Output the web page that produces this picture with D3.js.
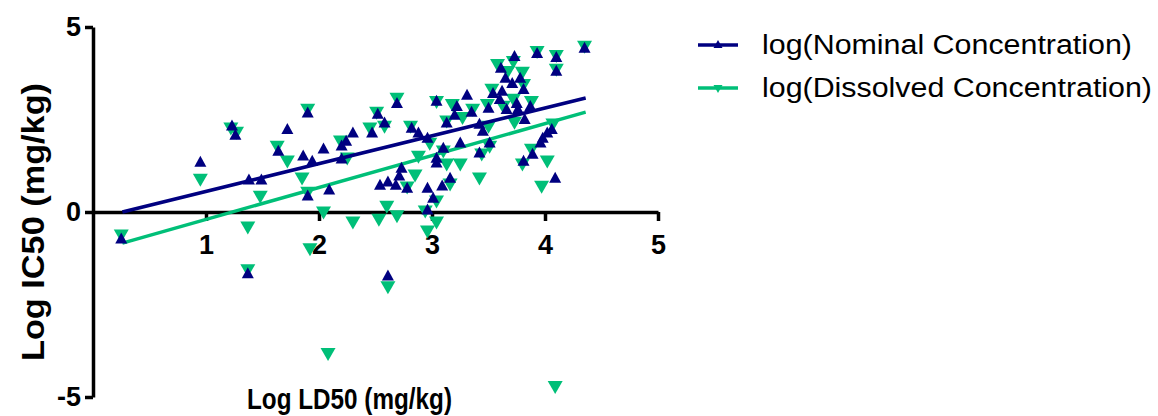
<!DOCTYPE html>
<html>
<head>
<meta charset="utf-8">
<script src="https://cdn.jsdelivr.net/npm/d3@7"></script>
<style>
  html, body { margin: 0; padding: 0; background: #ffffff; }
  svg { display: block; }
  text { font-family: "Liberation Sans", Arial, sans-serif; }
</style>
</head>
<body>
<svg id="chart" width="1158" height="416"></svg>
<script>
// ---------- data ----------
const xTicks = [1, 2, 3, 4, 5];
const yTicks = [-5, 0, 5];
const seriesNames = ["log(Nominal Concentration)", "log(Dissolved Concentration)"];
const xTitle = "Log LD50 (mg/kg)";
const yTitle = "Log IC50 (mg/kg)";

const nominalX = [0.25,0.95,1.23,1.26,1.38,1.49,1.37,1.64,1.72,1.90,1.86,1.94,2.04,1.90,2.09,2.20,2.24,2.20,2.30,2.47,2.52,2.58,2.69,2.54,2.61,2.68,2.71,2.73,2.78,2.61,2.82,2.88,2.96,3.04,3.10,3.04,3.04,2.96,3.01,3.09,3.16,2.96,3.13,3.20,3.22,3.31,3.35,3.25,3.42,3.45,3.50,3.42,3.51,3.54,3.62,3.60,3.61,3.65,3.71,3.78,3.73,3.81,3.66,3.75,3.76,3.87,3.82,3.93,4.10,4.10,4.35,3.98,4.02,4.06,3.96,3.81,3.89,4.09];
const nominalY = [-0.70,1.37,2.35,2.10,0.89,0.89,-1.64,1.67,2.26,2.70,1.54,1.40,1.73,0.46,0.62,1.81,1.94,1.46,2.16,2.16,2.67,2.43,2.96,0.75,0.84,0.75,1.00,1.21,0.67,-1.70,2.29,2.16,2.02,3.02,1.75,1.48,1.35,0.67,0.40,0.73,0.94,0.08,2.43,2.64,2.88,3.18,2.72,1.89,1.62,2.21,2.83,2.40,1.89,3.23,3.29,3.07,3.91,3.64,3.50,3.64,4.23,3.34,2.80,2.96,2.80,2.88,2.53,4.31,4.20,3.83,4.45,2.02,2.16,2.26,1.89,1.40,1.59,0.94];

const dissolvedX = [0.25,0.95,1.22,1.27,1.48,1.37,1.37,1.63,1.72,1.90,1.85,1.90,2.04,1.92,2.19,2.25,2.30,2.45,2.51,2.58,2.69,2.53,2.60,2.69,2.61,2.08,4.09,2.81,2.98,2.88,2.85,2.78,3.13,3.25,3.10,3.04,2.94,3.04,2.96,3.42,3.18,3.27,3.04,3.13,3.16,3.44,3.50,3.49,3.36,3.53,3.58,3.67,3.80,3.72,3.81,3.72,3.88,3.73,3.63,3.93,4.10,4.10,4.35,4.07,3.51,3.80,3.88,4.02,3.97];
const dissolvedY = [-0.65,0.86,2.24,2.13,0.40,-0.43,-1.59,1.75,1.35,2.75,0.89,0.51,-0.03,-1.02,1.89,1.43,-0.30,2.24,2.67,2.29,3.05,-0.22,0.13,-0.13,-2.05,-3.85,-4.74,2.29,1.83,1.48,0.97,0.65,1.27,1.27,1.62,0.27,0.00,-0.30,-0.54,0.89,2.88,2.53,2.96,2.43,0.73,1.54,2.29,2.88,2.75,3.29,3.96,3.77,3.75,4.04,3.42,3.02,2.96,2.40,2.83,4.31,4.20,3.83,4.45,2.35,1.75,1.27,1.67,1.35,0.67];

// linear fits (end points)
const fitX = [0.26, 4.36];
const fitNominalY = [0.00, 3.08];
const fitDissolvedY = [-0.84, 2.70];

// ---------- drawing ----------
const navy = "#000080";
const green = "#00BF78";
const FONT = "'Liberation Sans', Arial, sans-serif";

const svg = d3.select("#chart");
const x = d3.scaleLinear().domain([0, 5]).range([93, 658]);
const y = d3.scaleLinear().domain([-5, 5]).range([397, 27]);

function tri(cx, cy, w, h, down) {
  const t = down ? cy + h / 2 : cy - h / 2;
  const b = down ? cy - h / 2 : cy + h / 2;
  return `M${cx},${t}L${cx + w / 2},${b}L${cx - w / 2},${b}Z`;
}
const fmt = d => String(d); // plain hyphen-minus, integers

// axes
const xAxis = d3.axisBottom(x).tickValues(xTicks).tickFormat(fmt)
  .tickSize(9).tickSizeOuter(0).tickPadding(14);
const gx = svg.append("g").attr("transform", `translate(0,${y(0)})`).call(xAxis);
gx.select(".domain").attr("stroke", "#000").attr("stroke-width", 3.5);
gx.selectAll(".tick line").attr("stroke", "#000").attr("stroke-width", 3.5);
gx.selectAll(".tick text").attr("fill", "#000").attr("font-size", 27).attr("font-weight", "bold")
  .attr("font-family", FONT);

const yAxis = d3.axisLeft(y).tickValues(yTicks).tickFormat(fmt)
  .tickSize(8).tickSizeOuter(0).tickPadding(4);
const gy = svg.append("g").attr("transform", `translate(${x(0)},0)`).call(yAxis);
gy.select(".domain").attr("stroke", "#000").attr("stroke-width", 3.5);
gy.selectAll(".tick line").attr("stroke", "#000").attr("stroke-width", 3.5);
gy.selectAll(".tick text").attr("fill", "#000").attr("font-size", 27).attr("font-weight", "bold")
  .attr("font-family", FONT);

// dissolved series (drawn first, underneath)
const dData = dissolvedX.map((v, i) => [v, dissolvedY[i]]);
svg.append("g").selectAll("path").data(dData).join("path")
  .attr("d", d => tri(x(d[0]), y(d[1]), 15, 13, true))
  .attr("fill", green);
svg.append("line")
  .attr("x1", x(fitX[0])).attr("y1", y(fitDissolvedY[0]))
  .attr("x2", x(fitX[1])).attr("y2", y(fitDissolvedY[1]))
  .attr("stroke", green).attr("stroke-width", 3.5);

// nominal series
const nData = nominalX.map((v, i) => [v, nominalY[i]]);
svg.append("g").selectAll("path").data(nData).join("path")
  .attr("d", d => tri(x(d[0]), y(d[1]), 12, 11, false))
  .attr("fill", navy);
svg.append("line")
  .attr("x1", x(fitX[0])).attr("y1", y(fitNominalY[0]))
  .attr("x2", x(fitX[1])).attr("y2", y(fitNominalY[1]))
  .attr("stroke", navy).attr("stroke-width", 3.5);

// axis titles
svg.append("text").attr("x", 247).attr("y", 409)
  .attr("font-size", 29).attr("font-weight", "bold").attr("fill", "#000")
  .attr("textLength", 205).attr("lengthAdjust", "spacingAndGlyphs")
  .text(xTitle);
svg.append("text")
  .attr("transform", `translate(44,222) rotate(-90)`)
  .attr("text-anchor", "middle")
  .attr("font-size", 32).attr("font-weight", "bold").attr("fill", "#000")
  .attr("textLength", 278).attr("lengthAdjust", "spacingAndGlyphs")
  .text(yTitle);

// legend
const legend = svg.append("g");
const legendRows = [
  { name: seriesNames[0], color: navy, down: false, y: 45 },
  { name: seriesNames[1], color: green, down: true, y: 88 }
];
legendRows.forEach(r => {
  legend.append("line").attr("x1", 698).attr("x2", 738).attr("y1", r.y).attr("y2", r.y)
    .attr("stroke", r.color).attr("stroke-width", 3.5);
  legend.append("path").attr("d", tri(718, r.y + (r.down ? 1 : -1), 9, 8, r.down)).attr("fill", r.color);
  legend.append("text").attr("x", 762).attr("y", r.y + 9)
    .attr("font-size", 27).attr("fill", "#000")
    .attr("textLength", r.down ? 390 : 370).attr("lengthAdjust", "spacingAndGlyphs")
    .text(r.name);
});
</script>
</body>
</html>
